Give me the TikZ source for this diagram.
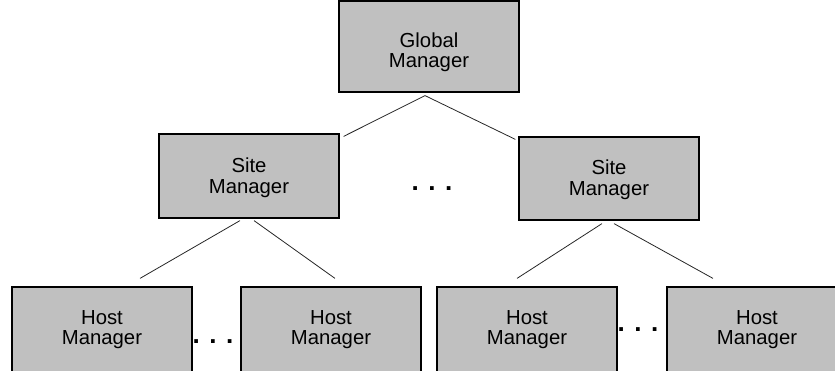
\documentclass[tikz,border=0pt]{standalone}
\usepackage{fontspec}
\setmainfont{Liberation Sans}
\usepackage{tikz}
\usetikzlibrary{calc}
\usepackage{xcolor}
\definecolor{mgrGray}{RGB}{192,192,192}

\tikzset{
    mgr/.style={draw=black, line width=1.2pt, fill=mgrGray, minimum width=180pt, minimum height=84pt, align=center, inner sep=0pt, font=\fontsize{20.3}{20.5}\selectfont},
    drop/.style={text height=35.3pt+2*#1, text depth=4.3pt},
    link/.style={draw=black!85, line width=0.8pt},
    gap/.style={font=\fontsize{26}{26}\bfseries\selectfont, inner sep=0pt, anchor=base}
}

\begin{document}
\begin{tikzpicture}[x=1pt, y=1pt]
    \useasboundingbox (0,0) rectangle (835,370);
    \clip (0,0) rectangle (835,370);

    \node[mgr, drop=6pt, minimum height=91pt] (global) at (429,323.5) {Global\\Manager};
    \node[mgr, drop=2pt] (siteA) at (249,194) {Site\\Manager};
    \node[mgr, drop=1.5pt, minimum height=83pt] (siteB) at (609,191.5) {Site\\Manager};
    \node[mgr, minimum height=85pt] (hostA) at (102,40.5) {Host\\Manager};
    \node[mgr, minimum height=85pt] (hostB) at (331,40.5) {Host\\Manager};
    \node[mgr, minimum height=85pt] (hostC) at (527,40.5) {Host\\Manager};
    \node[mgr, minimum height=85pt] (hostD) at (757,40.5) {Host\\Manager};

    \node[gap] (dotsSite) at (432,179) {. . .};
    \node[gap] (dotsA) at (213,27) {. . .};
    \node[gap] (dotsB) at (638,39) {. . .};

    % free ends next to the boxes
    \coordinate (G0) at ($(global.south)+(-4,-3)$);
    \coordinate (GA) at ($(siteA.north east)+(4,-3)$);
    \coordinate (GB) at ($(siteB.north west)+(-3,-3)$);
    \coordinate (A1) at ($(siteA.south)+(-9,-2)$);
    \coordinate (A2) at ($(siteA.south)+(5,-2)$);
    \coordinate (B1) at ($(siteB.south)+(-7,-3)$);
    \coordinate (B2) at ($(siteB.south)+(5,-3)$);
    \coordinate (HA) at ($(hostA.north)+(38,8)$);
    \coordinate (HB) at ($(hostB.north)+(4,8)$);
    \coordinate (HC) at ($(hostC.north)+(-10,8)$);
    \coordinate (HD) at ($(hostD.north)+(-44,8)$);

    \draw[link] (GA) -- (G0) -- (GB);
    \draw[link] (A1) -- (HA);
    \draw[link] (A2) -- (HB);
    \draw[link] (B1) -- (HC);
    \draw[link] (B2) -- (HD);
\end{tikzpicture}
\end{document}
